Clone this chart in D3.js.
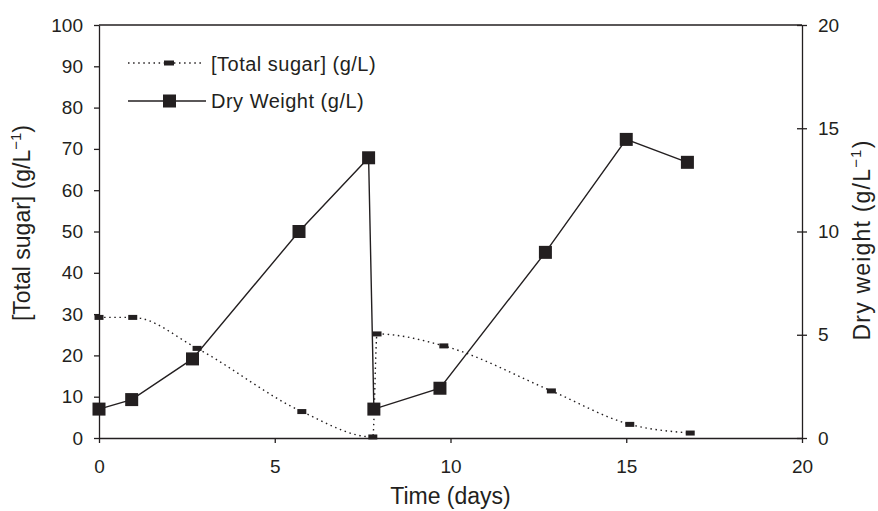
<!DOCTYPE html>
<html>
<head>
<meta charset="utf-8">
<script src="https://cdn.jsdelivr.net/npm/d3@7"></script>
<style>
  body { margin: 0; background: #fff; }
  text { font-family: "Liberation Sans", Arial, sans-serif; fill: #231f20; }
</style>
</head>
<body>
<svg id="chart" width="878" height="511"></svg>
<script>
// data
const sugarDays = [0, 0.96, 2.79, 5.77, 7.79, 7.91, 9.81, 12.87, 15.1, 16.82];
const sugarValues = [29.2, 29.2, 21.7, 6.4, 0.25, 25.2, 22.3, 11.4, 3.3, 1.2];
const dryDays = [0, 0.93, 2.66, 5.69, 7.67, 7.82, 9.7, 12.7, 15.0, 16.74];
const dryValues = [1.4, 1.86, 3.83, 10.0, 13.57, 1.4, 2.41, 8.99, 14.46, 13.35];
const xTicks = [0, 5, 10, 15, 20];
const leftTicks = [0, 10, 20, 30, 40, 50, 60, 70, 80, 90, 100];
const rightTicks = [0, 5, 10, 15, 20];
const legendLabels = ["[Total sugar] (g/L)", "Dry Weight (g/L)"];

const ink = "#231f20";
const margin = { top: 25, right: 76, bottom: 73, left: 99 };
const width = 878, height = 511;

const svg = d3.select("#chart");

const x = d3.scaleLinear().domain([0, 20]).range([margin.left, width - margin.right]);
const yLeft = d3.scaleLinear().domain([0, 100]).range([height - margin.bottom, margin.top]);
const yRight = d3.scaleLinear().domain([0, 20]).range([height - margin.bottom, margin.top]);

// top frame line
svg.append("line")
    .attr("x1", x(0)).attr("x2", x(20))
    .attr("y1", yLeft(100)).attr("y2", yLeft(100))
    .attr("stroke", ink).attr("stroke-width", 1.3);

function styleAxis(g) {
    g.selectAll("path, line").attr("stroke", ink).attr("stroke-width", 1.3);
    g.selectAll("text").attr("font-size", 19).attr("fill", ink)
        .attr("font-family", '"Liberation Sans", Arial, sans-serif');
}

svg.append("g")
    .attr("transform", `translate(0,${yLeft(0)})`)
    .call(d3.axisBottom(x).tickValues(xTicks).tickSize(5).tickSizeOuter(0).tickPadding(17))
    .call(styleAxis);

svg.append("g")
    .attr("transform", `translate(${x(0)},0)`)
    .call(d3.axisLeft(yLeft).tickValues(leftTicks).tickSize(5).tickSizeOuter(0).tickPadding(11))
    .call(styleAxis);

const rightAxis = svg.append("g")
    .attr("transform", `translate(${x(20)},0)`)
    .call(d3.axisRight(yRight).tickValues(rightTicks).tickSize(5).tickSizeOuter(0).tickPadding(11))
    .call(styleAxis);
// ticks cross the right axis
rightAxis.selectAll(".tick line").attr("x1", -5);

// axis titles
svg.append("text")
    .attr("x", x(10)).attr("y", 504)
    .attr("text-anchor", "middle").attr("font-size", 23)
    .text("Time (days)");

const leftTitle = svg.append("text")
    .attr("transform", "translate(30,223) rotate(-90)")
    .attr("text-anchor", "middle").attr("font-size", 23);
leftTitle.append("tspan").text("[Total sugar] (g/L");
leftTitle.append("tspan").attr("dy", -9).attr("font-size", 15).text("\u22121");
leftTitle.append("tspan").attr("dy", 9).text(")");

const rightTitle = svg.append("text")
    .attr("transform", "translate(870,240) rotate(-90)")
    .attr("text-anchor", "middle").attr("font-size", 23)
    .attr("letter-spacing", 1.2);
rightTitle.append("tspan").text("Dry weight (g/L");
rightTitle.append("tspan").attr("dy", -9).attr("font-size", 15).text("\u22121");
rightTitle.append("tspan").attr("dy", 9).text(")");

// series
const sugar = sugarDays.map((d, i) => ({ x: d, y: sugarValues[i] }));
const dry = dryDays.map((d, i) => ({ x: d, y: dryValues[i] }));

const sugarLine = d3.line()
    .x((d) => x(d.x)).y((d) => yLeft(d.y))
    .curve(d3.curveMonotoneX);
const dryLine = d3.line().x((d) => x(d.x)).y((d) => yRight(d.y));

svg.append("path")
    .datum(sugar)
    .attr("d", sugarLine)
    .attr("fill", "none").attr("stroke", ink)
    .attr("stroke-width", 1.4).attr("stroke-dasharray", "1.5,3.6");

svg.append("path")
    .datum(dry)
    .attr("d", dryLine)
    .attr("fill", "none").attr("stroke", ink).attr("stroke-width", 1.4);

svg.append("g").selectAll("rect")
    .data(sugar)
    .join("rect")
    .attr("x", (d) => x(d.x) - 4.5).attr("y", (d) => yLeft(d.y) - 2.5)
    .attr("width", 9).attr("height", 5)
    .attr("fill", ink);

svg.append("g").selectAll("rect")
    .data(dry)
    .join("rect")
    .attr("x", (d) => x(d.x) - 6.5).attr("y", (d) => yRight(d.y) - 6.5)
    .attr("width", 13).attr("height", 13)
    .attr("fill", ink);

// legend
const legend = svg.append("g").attr("transform", "translate(128,63)");
legend.append("line")
    .attr("x1", 0).attr("x2", 74).attr("y1", 0).attr("y2", 0)
    .attr("stroke", ink).attr("stroke-width", 1.4).attr("stroke-dasharray", "1.5,3.6");
legend.append("rect")
    .attr("x", 36).attr("y", -2.5).attr("width", 10).attr("height", 5).attr("fill", ink);
legend.append("text")
    .attr("x", 83).attr("y", 8).attr("font-size", 20).attr("letter-spacing", 0.5)
    .text(legendLabels[0]);

legend.append("line")
    .attr("x1", 0).attr("x2", 78).attr("y1", 38).attr("y2", 38)
    .attr("stroke", ink).attr("stroke-width", 1.4);
legend.append("rect")
    .attr("x", 35).attr("y", 31.5).attr("width", 13).attr("height", 13).attr("fill", ink);
legend.append("text")
    .attr("x", 83).attr("y", 45).attr("font-size", 20).attr("letter-spacing", 0.5)
    .text(legendLabels[1]);
</script>
</body>
</html>
